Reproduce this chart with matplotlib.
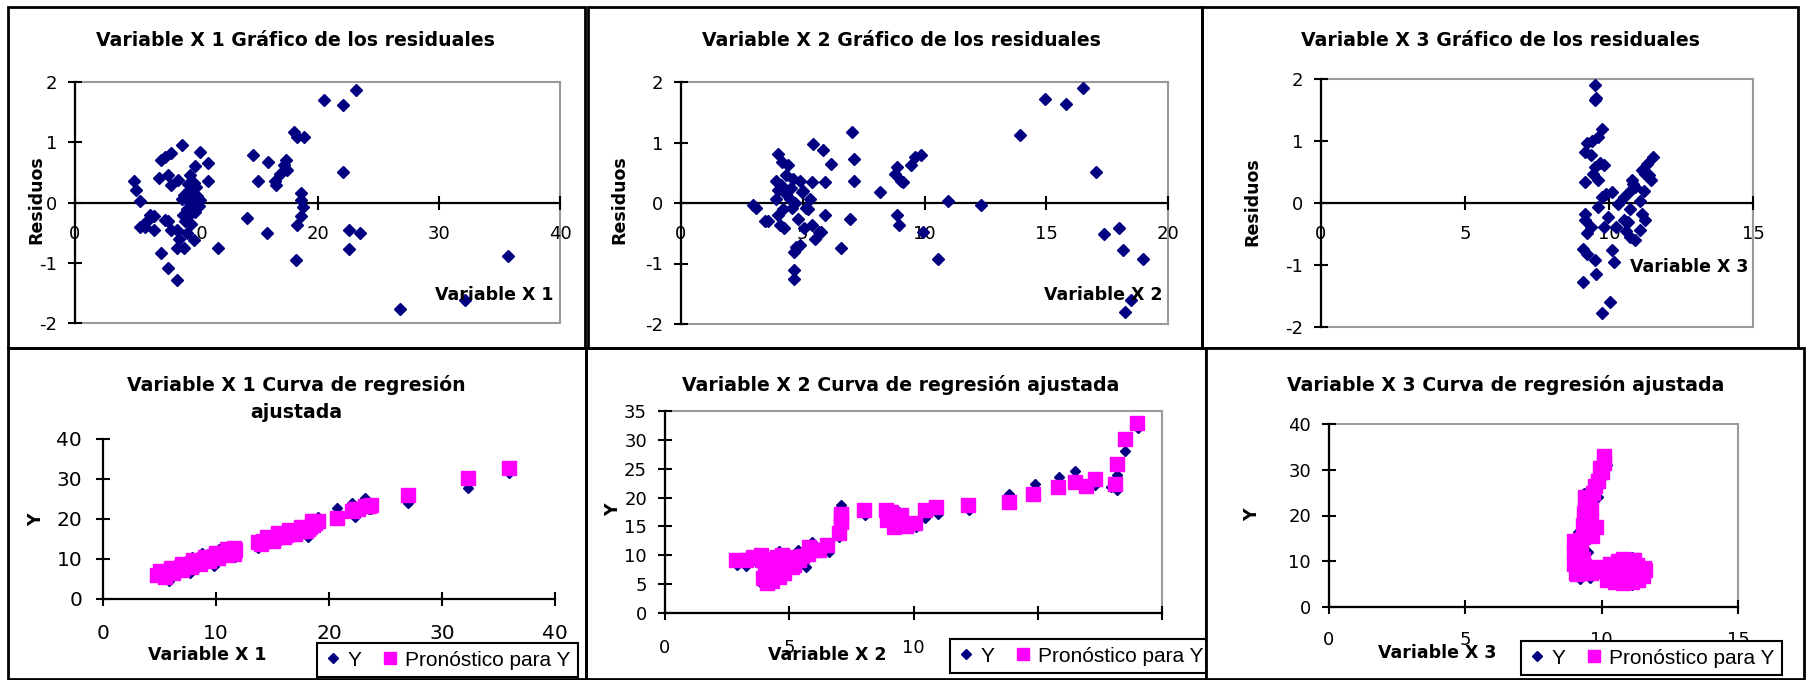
import matplotlib
matplotlib.use('Agg')
import matplotlib.pyplot as plt
from matplotlib.patches import Rectangle
from matplotlib.lines import Line2D

plt.rcParams['font.family'] = ['DejaVu Sans']
plt.rcParams['axes.unicode_minus'] = False

NAVY = '#000080'
PINK = '#FF00FF'

# ---------------- data ----------------
# Panel 1: residuals vs X1
x1_res = [4.9, 5.05, 5.4, 5.4, 5.8, 6.5, 6.5, 6.0, 7.1, 7.1, 7.4, 7.9, 6.95, 7.7, 7.9, 7.7, 7.7,
          8.4, 8.4, 8.4, 8.5, 8.8, 9.0, 9.2, 9.3, 9.6, 9.8, 9.9, 9.8, 10.3, 11.0, 11.0, 11.8,
          8.8, 9.0, 9.2, 9.4, 9.5, 9.7, 9.9, 10.1, 10.0, 9.1, 9.6, 10.2, 8.9, 9.3, 7.4, 7.9, 10.3,
          5.6, 6.2, 8.6, 9.5,
          14.2, 14.7, 15.1, 15.8, 15.9, 16.5, 16.6, 16.9, 17.2, 17.4, 17.5, 18.1, 18.3, 18.9,
          18.2, 18.3, 18.6, 18.6, 18.8, 18.6, 20.5, 22.1, 23.2, 22.1, 22.6, 22.6, 23.5,
          26.8, 32.2, 35.7]
res1 = [0.35, 0.21, 0.02, -0.4, -0.4, -0.23, -0.45, -0.29, -0.84, 0.7, 0.76, 0.82, 0.4, 0.46, 0.29, -0.31, -1.09,
        -1.28, -0.75, -0.45, 0.37, 0.95, -0.75, -0.5, -0.23, -0.07, 0.32, 0.6, -0.62, 0.84, 0.65, 0.35, -0.75,
        0.05, 0.12, -0.1, 0.2, 0.0, 0.08, -0.15, 0.1, 0.25, -0.3, -0.35, -0.05, -0.2, 0.3, -0.29, -0.45, 0.04,
        -0.38, -0.2, -0.6, 0.45,
        -0.26, 0.79, 0.35, -0.51, 0.68, 0.35, 0.29, 0.48, 0.62, 0.7, 0.54, 1.17, 1.09, 1.09,
        -0.95, -0.37, 0.15, 0.04, -0.07, -0.23, 1.7, 1.61, 1.87, 0.51, -0.45, -0.78, -0.51,
        -1.77, -1.61, -0.89]

# Panel 2: residuals vs X2
x2_res = [2.96, 3.1, 3.44, 3.57, 4.0, 3.92, 4.0, 3.92, 4.0, 4.08, 4.24, 4.16, 4.4, 4.32, 4.48, 4.56,
          4.64, 4.72, 4.64, 4.64, 4.88, 4.8, 4.88, 4.96, 5.04, 5.12, 5.28, 5.36, 5.44, 5.36, 5.52,
          5.68, 5.76, 5.84, 5.92, 5.92, 6.16, 6.56, 6.96, 7.04, 7.12, 7.12, 8.16, 8.8, 8.88, 8.88,
          8.96, 9.04, 9.12, 9.44, 9.6, 9.84, 9.92, 10.56, 10.96, 12.32, 13.92, 14.96, 15.8, 16.52,
          17.04, 17.36, 18.0, 18.16, 18.24, 18.48, 18.96,
          4.1, 4.3, 4.5, 4.7, 5.0, 5.2, 4.2, 4.6]
res2 = [-0.04, -0.08, -0.29, -0.29, 0.81, 0.37, 0.21, 0.07, -0.2, -0.37, -0.42, 0.68, 0.62, 0.46, 0.07, -0.09,
        -0.81, -0.73, -1.11, -1.25, -0.7, -0.26, 0.37, 0.18, -0.42, -0.09, 0.07, 0.35, 0.98, -0.37, -0.59,
        -0.48, -0.48, 0.87, 0.35, -0.2, 0.65, -0.75, -0.26, 1.17, 0.73, 0.37, 0.18, 0.48, 0.59, -0.2,
        -0.37, 0.37, 0.35, 0.62, 0.76, 0.79, -0.48, -0.92, 0.04, -0.04, 1.12, 1.72, 1.64, 1.9,
        0.52, -0.51, -0.41, -0.78, -1.8, -1.61, -0.92,
        0.3, 0.15, 0.25, 0.0, 0.2, -0.1, -0.1, 0.4]

# Panel 3: residuals vs X3
x3_res = [9.5, 9.5, 9.56, 9.77, 9.63, 9.22, 9.16, 9.36, 9.5, 9.84, 9.63, 9.16, 9.43, 9.16, 9.16, 9.36,
          9.22, 9.09, 9.22, 9.5, 9.56, 9.09, 9.77, 10.04, 10.1, 10.17, 9.63, 9.77, 9.9, 10.1, 9.97,
          9.84, 10.24, 10.31, 10.52, 10.72, 10.79, 10.72, 10.65, 10.72, 10.92, 11.06, 11.13, 11.06,
          11.26, 11.33, 11.54, 11.47, 11.13, 11.26, 10.92, 10.52, 9.7, 9.4, 10.85, 11.2, 11.4, 10.6]
res3 = [1.9, 1.66, 1.69, 1.2, 1.06, 0.96, 0.82, 0.77, 0.58, 0.61, 0.37, 0.34, 0.47, -0.17, -0.28, -0.39,
        -0.49, -0.74, -0.82, -0.92, -1.14, -1.27, -1.78, -1.6, -0.76, -0.95, -0.06, 0.1, 0.15, 0.18, -0.23,
        -0.39, -0.39, -0.01, 0.1, 0.2, 0.37, -0.09, -0.31, -0.55, -0.6, -0.44, -0.17, 0.04,
        0.47, 0.63, 0.74, 0.37, 0.53, -0.28, 0.26, -0.28, 0.65, 1.0, 0.3, 0.2, 0.45, -0.45]

# Panel 4: Y and forecast vs X1
x1_obs = [4.8, 5.1, 5.4, 5.8, 6.0, 6.5, 6.9, 7.1, 7.4, 7.7, 7.9, 8.2, 8.4, 8.8, 9.0, 9.2, 9.5, 9.8,
          10.0, 10.3, 10.6, 11.0, 11.4, 11.7,
          13.7, 14.2, 14.7, 15.1, 15.5, 15.8, 16.2, 16.5, 16.9, 17.2, 17.5, 17.8, 18.1, 18.3, 18.6,
          18.8, 19.0,
          20.7, 22.0, 22.3, 22.6, 23.2, 23.5, 23.7, 27.0, 32.3, 35.9]
y1_obs = [6.4, 6.5, 6.2, 4.5, 6.9, 6.8, 8.4, 7.0, 8.8, 6.5, 10.6, 7.4, 9.2, 11.5, 9.7, 9.6, 10.8, 8.2,
          11.0, 12.6, 11.3, 12.6, 12.8, 10.6,
          12.7, 14.3, 16.0, 15.8, 14.8, 16.6, 15.0, 16.8, 17.1, 17.6, 17.8, 16.6, 15.6, 19.2, 18.8,
          18.6, 20.6,
          22.7, 23.9, 20.6, 21.6, 25.2, 22.5, 22.6, 23.9, 27.7, 31.4]
x1_hat = [4.8, 5.1, 5.4, 5.8, 6.0, 6.5, 6.9, 7.1, 7.4, 7.7, 7.9, 8.2, 8.4, 8.8, 9.0, 9.2, 9.5, 9.8,
          10.0, 10.3, 10.6, 11.0, 11.4, 11.7,
          5.5, 6.2, 7.0, 7.8, 8.6, 9.4, 10.2, 11.0, 11.6, 5.0, 6.0, 7.0, 8.0, 9.0, 10.0, 11.0, 11.6,
          13.7, 14.2, 14.7, 15.1, 15.5, 15.8, 16.2, 16.5, 16.9, 17.2, 17.5, 17.8, 18.1, 18.3, 18.6,
          18.8, 19.0, 14.0, 15.0, 16.0, 17.0, 18.0, 14.5, 15.5, 16.5, 17.5, 18.5,
          20.7, 22.0, 22.3, 22.6, 23.2, 23.5, 23.7, 27.0, 32.3, 35.9]
y1_hat = [6.0, 6.2, 6.6, 6.8, 7.2, 7.4, 7.9, 8.2, 8.3, 8.8, 9.0, 9.2, 9.5, 9.8, 9.9, 10.3, 10.4, 10.8,
          10.9, 11.2, 11.6, 11.9, 12.2, 12.3,
          5.6, 6.6, 7.2, 8.0, 8.8, 9.4, 10.2, 11.0, 11.3, 7.0, 7.8, 8.8, 9.8, 10.6, 11.6, 12.6, 12.8,
          14.3, 14.6, 15.0, 15.3, 15.4, 15.7, 16.0, 16.3, 16.6, 16.9, 17.0, 17.4, 17.6, 18.0, 18.6,
          19.0, 19.5, 13.8, 14.6, 15.5, 16.3, 17.1, 15.6, 16.5, 17.3, 18.1, 19.6,
          20.2, 22.0, 22.4, 22.6, 23.2, 23.3, 23.5, 26.0, 30.2, 32.7]

# Panel 5: Y and forecast vs X2
x2_obs = [2.9, 3.24, 3.95, 4.5, 4.6, 5.35, 5.67, 5.9, 6.6, 7.0, 7.08, 8.05, 10.1, 10.45, 11.0, 12.25,
          13.85, 14.9, 15.85, 16.5, 17.3, 18.2, 18.2, 17.96, 18.5, 19.05,
          4.2, 4.8, 5.1, 9.0, 9.4, 9.7, 3.6]
y2_obs = [8.3, 8.1, 4.8, 5.7, 10.8, 10.9, 8.0, 12.3, 10.6, 13.2, 18.7, 16.9, 14.9, 16.4, 17.2, 17.8,
          20.6, 22.3, 23.5, 24.6, 22.2, 23.9, 21.3, 21.9, 28.1, 32.0,
          7.0, 8.5, 9.5, 16.5, 17.5, 15.5, 9.2]
x2_hat = [2.85, 3.24, 3.56, 3.87, 3.95, 4.02, 4.18, 4.5, 4.5, 4.8, 5.0, 5.1, 5.4, 5.75, 5.8, 6.2,
          6.5, 7.0, 7.08, 7.08, 8.0, 8.9, 8.95, 9.2, 9.5, 9.65, 10.05, 10.45, 10.9, 12.2, 13.85,
          14.8, 15.8, 16.5, 16.95, 17.3, 18.1, 18.2, 18.5, 19.0,
          4.1, 4.3, 4.6, 4.8, 5.2, 4.2, 4.4, 4.7, 3.9, 5.5, 6.0, 7.1, 9.1, 9.7]
y2_hat = [9.1, 9.1, 9.7, 10.0, 6.0, 7.4, 6.8, 8.0, 9.7, 9.1, 9.7, 8.0, 9.1, 10.3, 11.5, 10.9,
          11.7, 13.8, 15.8, 17.2, 17.9, 17.8, 16.1, 14.9, 16.9, 15.2, 15.6, 17.8, 18.4, 18.7, 19.3,
          20.6, 21.9, 22.7, 22.0, 23.3, 22.4, 25.9, 30.2, 33.0,
          5.2, 5.6, 6.3, 7.0, 8.4, 8.6, 9.3, 10.0, 9.2, 9.8, 11.0, 16.5, 17.5, 15.0]

# Panel 6: Y and forecast vs X3
x3_obs = [10.0, 9.37, 9.87, 10.2, 9.22, 9.58, 8.94, 11.1, 11.1, 9.5, 10.5, 11.4, 9.15, 9.7, 9.3,
          10.8, 11.6]
y3_obs = [28.1, 24.9, 24.1, 31.1, 6.2, 6.4, 8.0, 11.0, 4.75, 12.1, 5.0, 6.5, 16.3, 17.0, 21.0,
          10.8, 7.5]
x3_hat = [10.1, 9.94, 9.75, 9.7, 9.5, 9.45, 9.4, 9.37, 9.6, 9.8, 9.44, 9.3, 9.22, 9.15, 9.1, 9.08,
          9.08, 9.1, 9.2, 9.35, 9.5, 9.7, 9.87, 10.0, 10.3, 10.5, 10.73, 11.0, 11.16, 11.45, 11.6,
          10.88, 10.59, 10.45, 11.1, 10.2, 11.3, 10.8, 9.6,
          9.0, 9.0, 9.0, 9.05, 9.25, 9.3, 9.35, 9.3, 9.5, 9.6, 9.4, 9.55, 9.65, 9.85, 10.0, 10.1,
          10.6, 10.9, 11.2, 10.4, 10.7, 11.0, 11.3, 11.55, 10.3, 10.6, 10.9, 11.2, 11.5, 10.5,
          10.8, 11.1, 11.35, 10.2, 9.9, 9.7]
y3_hat = [32.9, 30.3, 26.5, 25.0, 23.5, 22.7, 21.5, 20.5, 19.0, 17.5, 16.1, 15.2, 14.6, 12.4, 11.0,
          10.2, 8.0, 7.2, 7.5, 8.0, 8.2, 8.0, 8.8, 8.5, 9.5, 9.0, 8.0, 9.8, 8.8, 7.3, 8.0,
          5.8, 6.2, 7.3, 10.2, 6.0, 6.5, 10.5, 7.5,
          14.5, 12.0, 9.5, 7.5, 13.0, 10.5, 9.0, 18.0, 20.0, 21.5, 24.0, 16.5, 15.5, 27.5, 29.5, 31.5,
          10.0, 9.8, 10.3, 8.5, 9.0, 8.6, 9.2, 8.5, 7.3, 7.0, 7.2, 7.0, 6.8, 5.5,
          5.2, 5.4, 5.8, 8.2, 7.8, 8.5]

# ---------------- layout ----------------
W, H = 1809, 680
fig = plt.figure(figsize=(W / 100, H / 100), dpi=100)


def rect(x0, y0, x1, y1):
    return [x0 / W, 1 - y1 / H, (x1 - x0) / W, (y1 - y0) / H]


def frame(x0, y0, x1, y1, fill=False, z=1):
    r = Rectangle((x0 / W, 1 - y1 / H), (x1 - x0) / W, (y1 - y0) / H, transform=fig.transFigure,
                  fill=fill, facecolor='white', edgecolor='black', linewidth=2, zorder=z)
    fig.patches.append(r)


def ftext(x, y, s, size, bold=True, rot=0, z=3):
    fig.text(x / W, 1 - y / H, s, ha='center', va='center', fontsize=size,
             fontweight='bold' if bold else 'normal', rotation=rot, zorder=z,
             family='DejaVu Sans')


frame(8, 7, 585, 348)
frame(588, 7, 1202, 348)
frame(1202, 7, 1798, 348)
frame(8, 348, 586, 679)
frame(586, 348, 1206, 679)
frame(1206, 348, 1804, 679, fill=True, z=1.5)


def style(ax, xlim, ylim, xt, yt, gray=True, zero=False, tsize=13, xpad=11, ypad=8):
    ax.set_xlim(*xlim)
    ax.set_ylim(*ylim)
    ax.set_xticks(xt)
    ax.set_yticks(yt)
    ax.patch.set_alpha(0)
    ax.spines['top'].set_visible(False)
    ax.spines['right'].set_visible(False)
    for s in ('left', 'bottom'):
        ax.spines[s].set_linewidth(1.6)
        ax.spines[s].set_color('black')
        ax.spines[s].set_zorder(2.6)
    if zero:
        ax.spines['bottom'].set_position(('data', 0))
    if gray:
        ax.add_patch(Rectangle((0, 0), 1, 1, transform=ax.transAxes, fill=False,
                               edgecolor='#9a9a9a', linewidth=1.5, zorder=0.5, clip_on=False))
    ax.tick_params(axis='both', direction='inout', length=10, width=1.5, labelsize=tsize)
    ax.tick_params(axis='x', pad=xpad)
    ax.tick_params(axis='y', pad=ypad)


def legend(ax, x0, y1, fsize=15):
    h = [Line2D([], [], marker='D', color=NAVY, ls='none', ms=5.5),
         Line2D([], [], marker='s', color=PINK, ls='none', ms=9)]
    lg = ax.legend(h, ['Y', 'Pronóstico para Y'], ncol=2, loc='lower left',
                   bbox_to_anchor=(x0 / W, 1 - y1 / H), bbox_transform=fig.transFigure,
                   prop={'family': 'Liberation Sans', 'size': fsize},
                   frameon=True, fancybox=False, framealpha=1,
                   edgecolor='black', borderpad=0.35, handlelength=0.8, handletextpad=0.3,
                   columnspacing=1.0, borderaxespad=0)
    lg.get_frame().set_linewidth(1.5)
    lg.set_zorder(6)


DMS = 6.6   # residual-plot diamond size
DMS2 = 5.6  # fitted-plot diamond size
SQ = 10     # forecast square size
TT = 13.6   # title size
AL = 12.5   # axis label size

# Panel 1
ax1 = fig.add_axes(rect(75, 82, 560, 323))
style(ax1, (0, 40), (-2, 2), [0, 10, 20, 30, 40], [-2, -1, 0, 1, 2], zero=True)
ax1.plot(x1_res, res1, ls='none', marker='D', ms=DMS, color=NAVY, clip_on=False, zorder=3)
ftext(295, 40, 'Variable X 1 Gráfico de los residuales', TT)
ftext(36, 200, 'Residuos', AL, rot=90)
ftext(494, 295, 'Variable X 1', AL)

# Panel 2
ax2 = fig.add_axes(rect(681, 82, 1168, 324))
style(ax2, (0, 20), (-2, 2), [0, 5, 10, 15, 20], [-2, -1, 0, 1, 2], zero=True)
ax2.plot(x2_res, res2, ls='none', marker='D', ms=DMS, color=NAVY, clip_on=False, zorder=3)
ftext(901, 40, 'Variable X 2 Gráfico de los residuales', TT)
ftext(619, 200, 'Residuos', AL, rot=90)
ftext(1103, 295, 'Variable X 2', AL)

# Panel 3
ax3 = fig.add_axes(rect(1321, 79, 1753, 327))
style(ax3, (0, 15), (-2, 2), [0, 5, 10, 15], [-2, -1, 0, 1, 2], zero=True)
ax3.plot(x3_res, res3, ls='none', marker='D', ms=DMS, color=NAVY, clip_on=False, zorder=3)
ftext(1500, 40, 'Variable X 3 Gráfico de los residuales', TT)
ftext(1252, 202, 'Residuos', AL, rot=90)
ftext(1689, 267, 'Variable X 3', AL)

# Panel 4
ax4 = fig.add_axes(rect(103, 439, 555, 599))
style(ax4, (0, 40), (0, 40), [0, 10, 20, 30, 40], [0, 10, 20, 30, 40], gray=False, tsize=14.5,
      xpad=13, ypad=10)
ax4.plot(x1_obs, y1_obs, ls='none', marker='D', ms=DMS2, color=NAVY, clip_on=False, zorder=3)
ax4.plot(x1_hat, y1_hat, ls='none', marker='s', ms=SQ, color=PINK, clip_on=False, zorder=4)
ftext(296, 385, 'Variable X 1 Curva de regresión', TT)
ftext(296, 413, 'ajustada', TT)
ftext(36, 520, 'Y', AL, rot=90)
ftext(207, 655, 'Variable X 1', AL)
legend(ax4, 317, 677)

# Panel 5
ax5 = fig.add_axes(rect(665, 411, 1162, 613))
style(ax5, (0, 20), (0, 35), [0, 5, 10, 15, 20], [0, 5, 10, 15, 20, 25, 30, 35], xpad=14)
ax5.plot(x2_obs, y2_obs, ls='none', marker='D', ms=DMS2, color=NAVY, clip_on=False, zorder=3)
ax5.plot(x2_hat, y2_hat, ls='none', marker='s', ms=SQ * 0.95, color=PINK, clip_on=False, zorder=4)
ftext(901, 385, 'Variable X 2 Curva de regresión ajustada', TT)
ftext(613, 510, 'Y', AL, rot=90)
ftext(827, 655, 'Variable X 2', AL)
legend(ax5, 950, 673)

# Panel 6
ax6 = fig.add_axes(rect(1329, 424, 1738, 607), zorder=2)
style(ax6, (0, 15), (0, 40), [0, 5, 10, 15], [0, 10, 20, 30, 40], xpad=12)
ax6.plot(x3_obs, y3_obs, ls='none', marker='D', ms=DMS2, color=NAVY, clip_on=False, zorder=3)
ax6.plot(x3_hat, y3_hat, ls='none', marker='s', ms=SQ * 0.95, color=PINK, clip_on=False, zorder=4)
ftext(1506, 385, 'Variable X 3 Curva de regresión ajustada', TT, z=4)
ftext(1252, 515, 'Y', AL, rot=90, z=4)
ftext(1437, 653, 'Variable X 3', AL, z=4)
legend(ax6, 1521, 675)

fig.savefig('out.png', dpi=100, facecolor='white')
